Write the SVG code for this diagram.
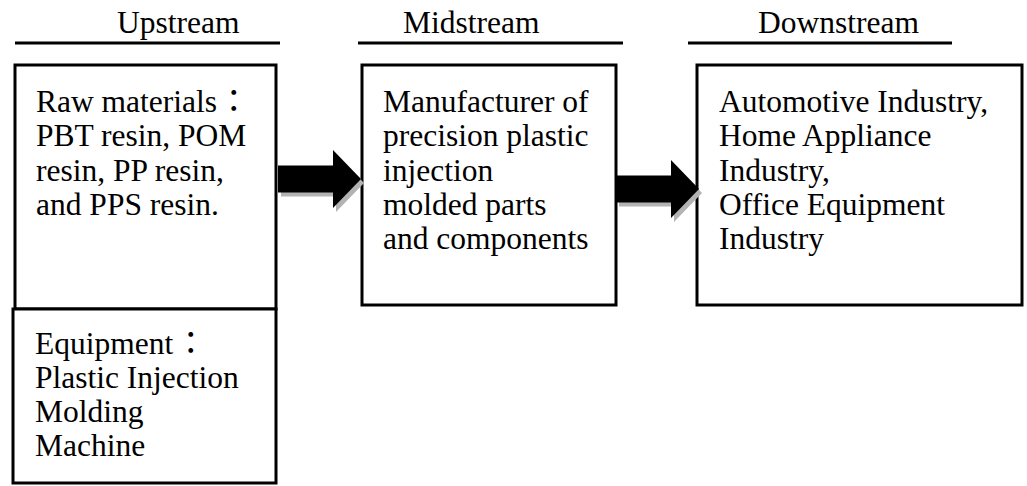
<svg xmlns="http://www.w3.org/2000/svg" width="1027" height="486" viewBox="0 0 1027 486">
  <style>
    .bg { fill: #ffffff; }
    .box { fill: #ffffff; stroke: #000000; stroke-width: 3; }
    .rule { stroke: #000000; stroke-width: 3; }
    .head { font-family: "Liberation Serif", "Times New Roman", serif; font-size: 31.5px; fill: #000000; }
    .txt { font-family: "Liberation Serif", "Times New Roman", serif; font-size: 31.5px; fill: #000000; }
    .cjk { font-family: "Noto Sans CJK TC", "Noto Sans CJK JP", sans-serif; }
    .arrow { fill: #000000; }
    .shadow { fill: #b3b3b3; }
  </style>
  <defs>
    <path id="arrow-shape" d="M0,-13.5 H55 V-29 L83,0 L55,29 V13.5 H0 Z"/>
  </defs>
  <rect class="bg" x="0" y="0" width="1027" height="486"/>

  <!-- stage headings with rules -->
  <g id="heading-upstream">
    <text class="head" x="117" y="33">Upstream</text>
    <line class="rule" x1="15" y1="43" x2="280" y2="43"/>
  </g>
  <g id="heading-midstream">
    <text class="head" x="403" y="33">Midstream</text>
    <line class="rule" x1="358" y1="43" x2="623" y2="43"/>
  </g>
  <g id="heading-downstream">
    <text class="head" x="758" y="33">Downstream</text>
    <line class="rule" x1="688" y1="43" x2="952" y2="43"/>
  </g>

  <!-- upstream: raw materials -->
  <g id="node-raw-materials">
    <rect class="box" x="15" y="65" width="261" height="244"/>
    <text class="txt">
      <tspan x="36" y="112">Raw materials</tspan><tspan class="cjk" x="218" y="112">：</tspan>
      <tspan x="36" y="146">PBT resin, POM</tspan>
      <tspan x="36" y="181">resin, PP resin,</tspan>
      <tspan x="36" y="215">and PPS resin.</tspan>
    </text>
  </g>

  <!-- upstream: equipment -->
  <g id="node-equipment">
    <rect class="box" x="13" y="309" width="263" height="174"/>
    <text class="txt">
      <tspan x="35" y="354">Equipment</tspan><tspan class="cjk" x="175" y="354">：</tspan>
      <tspan x="35" y="388">Plastic Injection</tspan>
      <tspan x="35" y="422">Molding</tspan>
      <tspan x="35" y="456">Machine</tspan>
    </text>
  </g>

  <!-- midstream -->
  <g id="node-manufacturer">
    <rect class="box" x="362" y="65" width="254" height="240"/>
    <text class="txt">
      <tspan x="383" y="112">Manufacturer of</tspan>
      <tspan x="383" y="146">precision plastic</tspan>
      <tspan x="383" y="181">injection</tspan>
      <tspan x="383" y="215">molded parts</tspan>
      <tspan x="383" y="249">and components</tspan>
    </text>
  </g>

  <!-- downstream -->
  <g id="node-industries">
    <rect class="box" x="697" y="65" width="325" height="240"/>
    <text class="txt">
      <tspan x="719" y="112">Automotive Industry,</tspan>
      <tspan x="719" y="146">Home Appliance</tspan>
      <tspan x="719" y="181">Industry,</tspan>
      <tspan x="719" y="215">Office Equipment</tspan>
      <tspan x="719" y="249">Industry</tspan>
    </text>
  </g>

  <!-- block arrows with drop shadow -->
  <g id="connectors">
    <g transform="translate(278,179)">
      <use href="#arrow-shape" class="shadow" transform="translate(3,4)"/>
      <use href="#arrow-shape" class="arrow"/>
    </g>
    <g transform="translate(616,189)">
      <use href="#arrow-shape" class="shadow" transform="translate(3,4)"/>
      <use href="#arrow-shape" class="arrow"/>
    </g>
  </g>
</svg>
